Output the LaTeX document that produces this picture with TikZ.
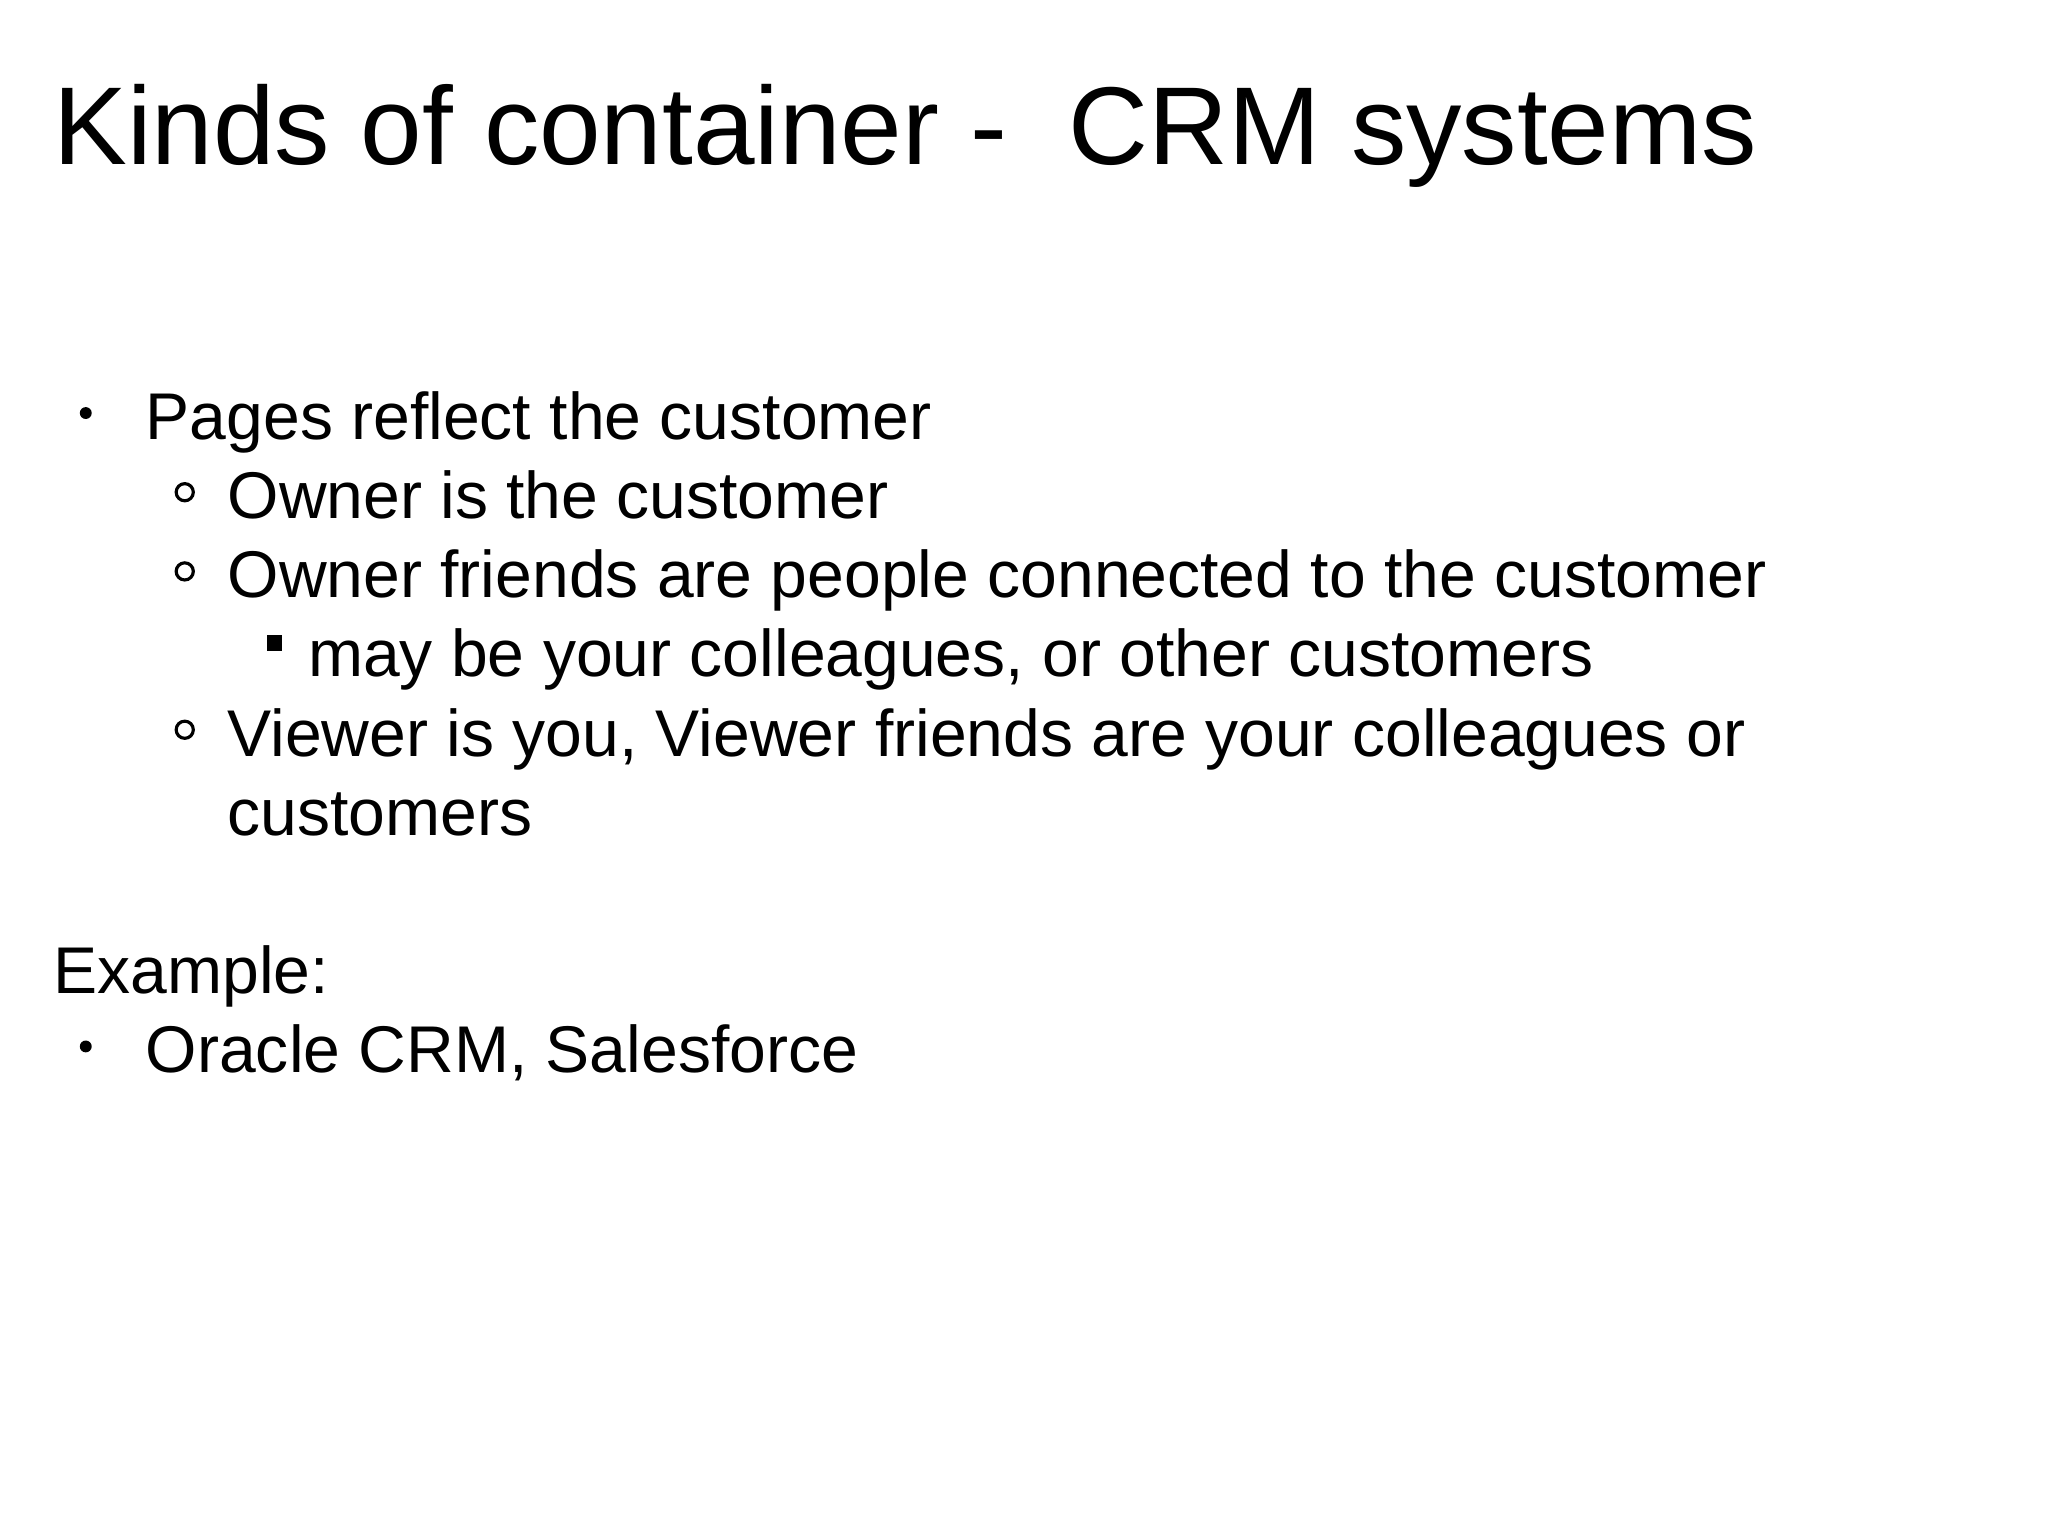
\documentclass[tikz,border=0pt]{standalone}
\usepackage{fontspec}
\setmainfont{Liberation Sans}
\begin{document}
\begin{tikzpicture}[x=0.013196cm,y=-0.013196cm,
  ttl/.style={anchor=base west,inner sep=0,font=\fontsize{31.5pt}{36pt}\selectfont},
  txt/.style={anchor=base west,inner sep=0,font=\fontsize{18.8pt}{22pt}\selectfont},
  dot/.style={fill=black},
  ring/.style={draw=black,line width=0.9pt}]
\useasboundingbox (0,0) rectangle (1552,1164);
\node[ttl] (title) at (40,125) {Kinds of container -\ \ CRM systems};
\fill[dot] (65,313) circle (4.5);
\node[txt] (l1) at (110,333) {Pages reflect the customer};
\draw[ring] (140,373) circle (6.5);
\node[txt] (l2) at (172,393) {Owner is the customer};
\draw[ring] (140,433) circle (6.5);
\node[txt] (l3) at (172,453) {Owner friends are people connected to the customer};
\fill (202,481) rectangle (214,493);
\node[txt] (l4) at (233,513) {may be your colleagues, or other customers};
\draw[ring] (140,553) circle (6.5);
\node[txt] (l5) at (172,573) {Viewer is you, Viewer friends are your colleagues or};
\node[txt] (l6) at (172,633) {customers};
\node[txt] (l7) at (40,753) {Example:};
\fill[dot] (65,793) circle (4.5);
\node[txt] (l8) at (110,813) {Oracle CRM, Salesforce};
\end{tikzpicture}
\end{document}
